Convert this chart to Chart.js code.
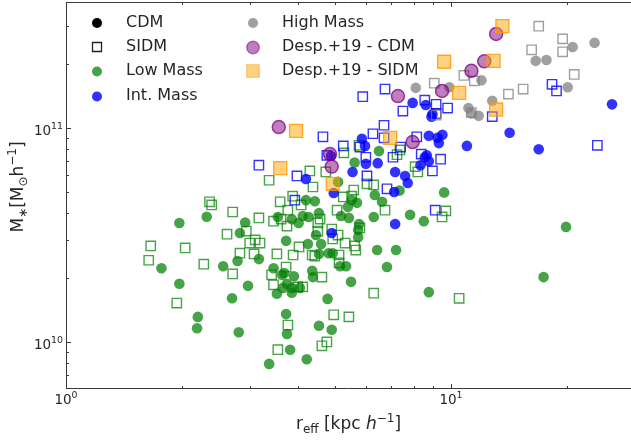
<!DOCTYPE html>
<html>
<head>
<meta charset="utf-8">
<script src="https://cdn.jsdelivr.net/npm/chart.js@4.4.1/dist/chart.umd.min.js"></script>
<style>
  html, body { margin: 0; padding: 0; background: #fff; }
  #wrap { width: 631px; height: 441px; }
</style>
</head>
<body>
<div id="wrap"><canvas id="chart" width="631" height="441"></canvas></div>
<script>
// r_eff in kpc/h, M_* in units of 1e10 Msun/h
const lowCdmR = [1.97, 2.32, 2.92, 2.83, 3.73, 1.77, 2.56, 2.79, 3.17, 1.97, 2.97, 2.70, 3.46, 3.64, 3.69, 3.91, 3.75, 3.66, 3.53, 3.86,
  3.86, 4.05, 4.38, 4.36, 3.73, 2.20, 2.19, 2.81, 3.75, 3.82, 3.37, 3.55, 3.86, 4.02, 5.62, 6.5, 5.09, 9.6, 7.35, 6.34,
  6.62, 5.7, 5.4, 5.52, 5.18, 5.43, 4.2, 4.43, 4.12, 4.54, 4.27, 6.3, 7.83, 8.5, 5.77, 5.74, 5.74, 4.46, 4.6, 4.25,
  6.43, 7.2, 4.81, 4.93, 5.15, 5.34, 4.54, 6.82, 5.5, 8.76, 4.78, 17.4, 4.54, 4.9, 4.22, 19.9];
const lowCdmM = [3.6, 3.85, 3.62, 3.23, 2.97, 2.21, 2.26, 2.39, 2.44, 1.87, 1.83, 1.60, 2.21, 2.06, 2.10, 2.03, 1.87, 1.79, 1.68, 1.70,
  1.79, 1.79, 2.01, 2.15, 1.35, 1.31, 1.16, 1.11, 1.09, 0.92, 0.79, 3.84, 3.75, 3.60, 6.9, 7.8, 5.6, 5.0, 5.1, 4.86,
  4.52, 4.47, 4.28, 4.6, 3.88, 3.8, 4.6, 4.55, 3.88, 4.0, 3.84, 3.84, 3.93, 3.67, 3.56, 3.34, 3.09, 3.16, 2.87, 2.87,
  2.69, 2.69, 2.6, 2.6, 2.26, 2.26, 2.58, 2.24, 1.91, 1.71, 1.59, 2.01, 1.19, 1.14, 0.83, 3.45];

const lowSidmR = [2.36, 2.39, 2.71, 3.17, 3.6, 3.88, 3.37, 3.46, 3.62, 3.75, 3.77, 2.62, 2.94, 3.0, 3.1, 3.19, 1.66, 2.04, 1.64, 2.28,
  2.83, 3.08, 3.53, 3.89, 4.03, 2.71, 3.42, 3.46, 3.73, 1.94, 3.77, 3.55, 4.0, 4.3, 4.73, 4.38, 4.08, 5.06, 5.25, 5.52,
  5.59, 6.3, 6.05, 6.74, 7.37, 7.24, 8.07, 8.2, 9.48, 9.7, 5.77, 5.27, 4.57, 4.51, 4.51, 4.9, 5.09, 5.31, 4.93, 5.62,
  5.8, 4.36, 4.43, 5.12, 5.12, 4.62, 4.12, 6.3, 5.66, 10.5, 4.96, 5.43, 4.76, 4.62];
const lowSidmM = [4.52, 4.37, 4.05, 3.8, 4.52, 4.8, 5.7, 3.67, 3.75, 3.48, 4.13, 3.19, 3.3, 2.9, 3.0, 2.9, 2.81, 2.75, 2.41, 2.31,
  2.6, 2.58, 2.58, 2.55, 2.78, 2.08, 2.06, 1.85, 2.24, 1.52, 1.2, 0.92, 1.81, 6.3, 6.23, 5.3, 4.37, 4.13, 4.76, 4.8,
  5.13, 5.42, 5.48, 4.13, 7.9, 7.5, 6.6, 6.23, 3.84, 4.1, 8.3, 7.65, 3.75, 3.6, 3.3, 3.37, 3.16, 2.9, 3.03, 2.81,
  3.41, 2.55, 2.52, 2.55, 2.34, 2.01, 1.81, 1.69, 2.69, 1.6, 1.34, 1.31, 1.0, 0.96];

const intCdmR = [7.95, 8.6, 8.9, 8.95, 8.76, 9.23, 9.5, 9.3, 5.87, 5.98, 6.01, 6.45, 5.55, 7.16, 7.6, 7.72, 8.76, 8.55, 8.65, 8.33,
  7.12, 7.16, 4.96, 4.2, 4.88, 4.9, 11.0, 14.2, 16.9, 26.2];
const intCdmM = [13.1, 12.8, 11.3, 11.6, 9.2, 9.0, 9.3, 8.5, 8.9, 8.25, 6.8, 6.85, 6.23, 6.23, 5.97, 5.53, 7.0, 7.3, 7.45, 6.7,
  5.02, 3.56, 4.97, 5.78, 7.4, 3.23, 8.25, 9.5, 7.96, 12.9];

const intSidmR = [3.17, 3.98, 3.93, 4.65, 5.25, 6.7, 6.27, 6.7, 7.5, 8.37, 7.07, 7.4, 6.05, 6.82, 9.4, 8.95, 9.1, 5.8, 9.15, 9.8,
  5.9, 6.01, 4.76, 18.3, 18.8, 8.55, 9.15, 12.8, 8.15, 24.0, 6.74];
const intSidmM = [6.7, 5.97, 4.6, 9.1, 8.25, 10.3, 9.4, 9.0, 12.0, 7.55, 7.3, 8.15, 5.97, 5.2, 7.15, 6.3, 4.13, 8.15, 12.9, 12.4,
  14.0, 7.3, 7.45, 16.0, 14.9, 13.5, 11.7, 11.3, 9.1, 8.3, 15.2];

const highCdmR = [23.6, 20.7, 17.7, 16.6, 12.0, 9.9, 8.1, 20.1, 12.8, 11.1, 11.3, 11.8];
const highCdmM = [25.0, 23.9, 20.8, 20.6, 16.7, 15.5, 15.4, 15.5, 13.4, 12.4, 11.7, 11.4];

const highSidmR = [16.9, 19.5, 19.5, 16.2, 10.8, 11.5, 9.05, 20.9, 15.4, 14.1, 11.3, 9.15];
const highSidmM = [29.9, 26.1, 22.7, 23.2, 17.6, 16.6, 16.2, 17.8, 15.2, 14.4, 11.8, 11.5];

const despCdmR = [3.57, 4.85, 4.9, 7.95, 7.28, 13.1, 12.2, 11.3, 9.48];
const despCdmM = [10.1, 7.55, 6.6, 8.6, 14.1, 27.5, 20.5, 18.5, 14.9];

const despSidmR = [3.96, 3.6, 6.95, 4.93, 13.6, 9.6, 12.9, 10.5, 13.1];
const despSidmM = [9.7, 6.5, 9.0, 5.48, 29.9, 20.4, 20.6, 14.6, 12.2];

const xTicks = [1, 10];
const xTickLabels = [["10", "0"], ["10", "1"]];
const yTicks = [1e10, 1e11];
const yTickLabels = [["10", "10"], ["10", "11"]];

const legendCol1 = ["CDM", "SIDM", "Low Mass", "Int. Mass"];
const legendCol2 = ["High Mass", "Desp.+19 - CDM", "Desp.+19 - SIDM"];

const GREEN = "rgba(0,128,0,0.72)";
const BLUE = "rgba(0,0,255,0.8)";
const GREY = "rgba(128,128,128,0.75)";
const FONT = '"DejaVu Sans"';

const pts = (rs, ms) => rs.map((r, i) => ({ x: r, y: ms[i] * 1e10 }));
const circ = (data, color, r) => ({ data, pointStyle: "circle", pointRadius: r, backgroundColor: color, borderWidth: 0 });
const sq = (data, color, r) => ({ data, pointStyle: "rect", pointRadius: r, backgroundColor: "transparent", borderColor: color, borderWidth: 1.4 });

// first dataset ends up on top
const datasets = [
  { data: pts(despSidmR, despSidmM), pointStyle: "rect", pointRadius: 9.2, backgroundColor: "rgba(255,165,0,0.5)", borderColor: "rgba(255,150,0,0.8)", borderWidth: 1.3 },
  { data: pts(despCdmR, despCdmM), pointStyle: "circle", pointRadius: 6.5, backgroundColor: "rgba(128,0,128,0.5)", borderColor: "rgba(128,0,128,0.75)", borderWidth: 1.5 },
  sq(pts(highSidmR, highSidmM), GREY, 6.6),
  circ(pts(highCdmR, highCdmM), GREY, 5.3),
  sq(pts(intSidmR, intSidmM), BLUE, 6.6),
  circ(pts(intCdmR, intCdmM), BLUE, 5.3),
  sq(pts(lowSidmR, lowSidmM), GREEN, 6.6),
  circ(pts(lowCdmR, lowCdmM), GREEN, 5.3),
];

function drawSup(ctx, base, exp, x, y, align, size) {
  const bf = size + "px " + FONT, sf = (size * 0.7).toFixed(1) + "px " + FONT;
  ctx.font = bf; const wb = ctx.measureText(base).width;
  ctx.font = sf; const we = ctx.measureText(exp).width;
  const w = wb + we;
  const x0 = align === "center" ? x - w / 2 : align === "right" ? x - w : x;
  ctx.textAlign = "left";
  ctx.textBaseline = "alphabetic";
  ctx.font = bf; ctx.fillText(base, x0, y);
  ctx.font = sf; ctx.fillText(exp, x0 + wb, y - size * 0.42);
}

function drawPieces(ctx, pieces, cx, y) {
  let w = 0;
  pieces.forEach(p => { ctx.font = p[1]; w += ctx.measureText(p[0]).width; });
  let x = cx - w / 2;
  ctx.textAlign = "left";
  ctx.textBaseline = "alphabetic";
  pieces.forEach(p => {
    ctx.font = p[1];
    ctx.fillText(p[0], x, y + p[2]);
    x += ctx.measureText(p[0]).width;
  });
}

function marker(ctx, kind, x, y, s, fill, stroke, lw) {
  ctx.beginPath();
  if (kind === "circle") ctx.arc(x, y, s / 2, 0, Math.PI * 2);
  else ctx.rect(x - s / 2, y - s / 2, s, s);
  if (fill) { ctx.fillStyle = fill; ctx.fill(); }
  if (stroke) { ctx.strokeStyle = stroke; ctx.lineWidth = lw; ctx.stroke(); }
}

const axisFrame = {
  id: "axisFrame",
  afterDatasetsDraw(chart) {
    const { ctx, chartArea: a, scales: { x, y } } = chart;
    ctx.save();
    ctx.strokeStyle = "#3a3a3a";
    ctx.lineWidth = 1;
    // left, bottom and top spines (right side is cut off by the image edge)
    ctx.beginPath();
    ctx.moveTo(a.right, a.top + 0.5);
    ctx.lineTo(a.left + 0.5, a.top + 0.5);
    ctx.lineTo(a.left + 0.5, a.bottom - 0.5);
    ctx.lineTo(a.right, a.bottom - 0.5);
    ctx.stroke();

    const ticks = (scale, horiz) => {
      const lo = Math.floor(Math.log10(scale.min)), hi = Math.ceil(Math.log10(scale.max));
      for (let d = lo; d <= hi; d++) {
        for (let m = 1; m < 10; m++) {
          const v = m * Math.pow(10, d);
          if (v < scale.min || v > scale.max) continue;
          const p = Math.round(scale.getPixelForValue(v)) + 0.5;
          const len = m === 1 ? 5 : 3;
          ctx.beginPath();
          if (horiz) {
            ctx.moveTo(p, a.bottom); ctx.lineTo(p, a.bottom - len);
            ctx.moveTo(p, a.top); ctx.lineTo(p, a.top + len);
          } else {
            ctx.moveTo(a.left, p); ctx.lineTo(a.left + len, p);
          }
          ctx.stroke();
        }
      }
    };
    ticks(x, true);
    ticks(y, false);

    ctx.fillStyle = "#262626";
    xTicks.forEach((v, i) => drawSup(ctx, xTickLabels[i][0], xTickLabels[i][1], x.getPixelForValue(v), 404, "center", 13.5));
    yTicks.forEach((v, i) => drawSup(ctx, yTickLabels[i][0], yTickLabels[i][1], 63, y.getPixelForValue(v) + 7, "right", 13.5));

    const big = "17px " + FONT, small = "12px " + FONT;
    drawPieces(ctx, [["r", big, 0], ["eff", small, 4], [" [kpc ", big, 0], ["h", "italic 17px " + FONT, 0], ["\u22121", small, -7], ["]", big, 0]],
      (a.left + a.right) / 2, 429);
    ctx.save();
    ctx.translate(23, 187);
    ctx.rotate(-Math.PI / 2);
    drawPieces(ctx, [["M", big, 0], ["\u2217", small, 4], ["[M", big, 0], ["\u2299", small, 4], ["h", big, 0], ["\u22121", small, -7], ["]", big, 0]], 0, 0);
    ctx.restore();

    // legend
    const rows1 = [23, 47, 71.5, 96.5], rows2 = [23, 47.5, 71];
    marker(ctx, "circle", 97, rows1[0], 10, "#000");
    marker(ctx, "rect", 97, rows1[1], 9, null, "#222", 1.3);
    marker(ctx, "circle", 97, rows1[2], 10, GREEN);
    marker(ctx, "circle", 97, rows1[3], 10, BLUE);
    marker(ctx, "circle", 253, rows2[0], 10, GREY);
    marker(ctx, "circle", 253, rows2[1], 12.5, "rgba(128,0,128,0.5)", "rgba(128,0,128,0.5)", 1.5);
    marker(ctx, "rect", 253, rows2[2], 12.5, "rgba(255,165,0,0.5)", "rgba(255,150,0,0.5)", 1.2);
    ctx.fillStyle = "#262626";
    ctx.font = "16px " + FONT;
    ctx.textAlign = "left";
    ctx.textBaseline = "middle";
    legendCol1.forEach((t, i) => ctx.fillText(t, 126, rows1[i] - 0.5));
    legendCol2.forEach((t, i) => ctx.fillText(t, 282, rows2[i] - 0.5));
    ctx.restore();
  },
};

new Chart(document.getElementById("chart"), {
  type: "scatter",
  data: { datasets },
  options: {
    responsive: false,
    animation: false,
    layout: { autoPadding: false, padding: { left: 66, right: 0, top: 2, bottom: 52 } },
    plugins: { legend: { display: false }, tooltip: { enabled: false } },
    scales: {
      x: { type: "logarithmic", min: 1, max: 29.35, display: false },
      y: { type: "logarithmic", min: 6.03e9, max: 3.88e11, display: false },
    },
  },
  plugins: [axisFrame],
});
</script>
</body>
</html>
